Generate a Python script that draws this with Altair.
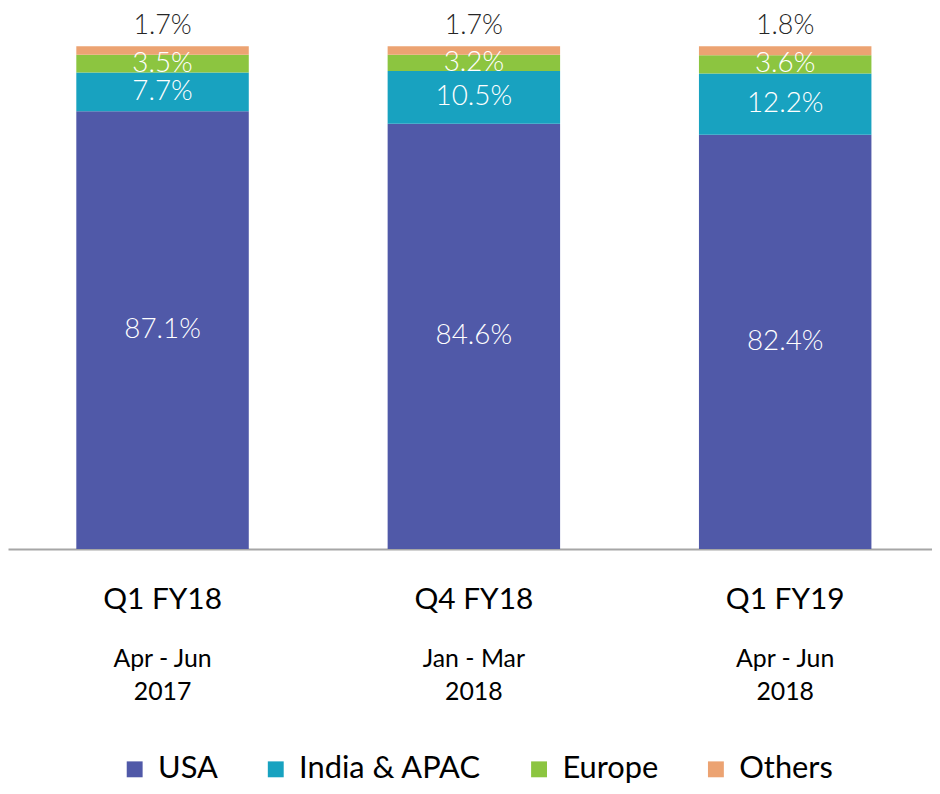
import altair as alt
import pandas as pd

quarters = ["Q1 FY18", "Q4 FY18", "Q1 FY19"]
periods = ["Apr - Jun", "Jan - Mar", "Apr - Jun"]
years = ["2017", "2018", "2018"]
regions = ["USA", "India & APAC", "Europe", "Others"]
usa = [87.1, 84.6, 82.4]
india_apac = [7.7, 10.5, 12.2]
europe = [3.5, 3.2, 3.6]
others = [1.7, 1.7, 1.8]
colors = ["#5059A8", "#18A2C0", "#8CC540", "#ECA372"]

series = [usa, india_apac, europe, others]
rows = []
for qi, q in enumerate(quarters):
    for ri, r in enumerate(regions):
        rows.append({"quarter": q, "region": r, "order": ri, "value": series[ri][qi],
                     "label": f"{series[ri][qi]:.1f}%"})
df = pd.DataFrame(rows)
cat_df = pd.DataFrame({"quarter": quarters, "period": periods, "year": years})

FONT = "Lato"
xscale = alt.Scale(domain=quarters, paddingInner=0.446, paddingOuter=0.207, align=0.53)
x = alt.X("quarter:N", scale=xscale,
          axis=alt.Axis(title=None, labels=False, ticks=False, domain=True, grid=False,
                        domainColor="#A6A6A6", domainWidth=2))

base = alt.Chart(df).transform_stack(
    stack="value", groupby=["quarter"], sort=[alt.SortField("order")], as_=["y0", "y1"]
).transform_calculate(mid="(datum.y0 + datum.y1) / 2")

yscale = alt.Scale(domain=[0, 100], nice=False, zero=True)

bars = base.mark_bar().encode(
    x=x,
    y=alt.Y("y0:Q", scale=yscale, axis=None),
    y2="y1:Q",
    color=alt.Color("region:N", scale=alt.Scale(domain=regions, range=colors),
                    sort=regions,
                    legend=alt.Legend(title=None, orient="none", direction="horizontal",
                                      legendX=112, legendY=712, symbolType="square",
                                      symbolSize=256, symbolStrokeWidth=0,
                                      labelFontSize=31, labelFont=FONT, labelLimit=0,
                                      labelColor="#000000", labelOffset=8,
                                      columnPadding=42)),
    order=alt.Order("order:Q"),
)

inner = base.transform_filter("datum.region != 'Others'").mark_text(
    color="white", fontSize=28, font=FONT, fontWeight=300, baseline="middle"
).encode(x=x, y=alt.Y("mid:Q", scale=yscale), text="label:N")

top = base.transform_filter("datum.region == 'Others'").mark_text(
    color="#262626", fontSize=27, font=FONT, fontWeight=300, baseline="alphabetic", dy=-12
).encode(x=x, y=alt.Y("y1:Q", scale=yscale), text="label:N")

qlab = alt.Chart(cat_df).mark_text(fontSize=30, font=FONT, color="#000000", baseline="middle").encode(
    x=x, y=alt.value(557), text="quarter:N")
plab = alt.Chart(cat_df).mark_text(fontSize=25, font=FONT, color="#000000", baseline="middle").encode(
    x=x, y=alt.value(617), text="period:N")
ylab = alt.Chart(cat_df).mark_text(fontSize=25, font=FONT, color="#000000", baseline="middle").encode(
    x=x, y=alt.value(650), text="year:N")

chart = alt.layer(bars, inner, top, qlab, plab, ylab).properties(
    width=930, height=506,
    padding={"left": 0, "top": 36, "right": 0, "bottom": 236},
    autosize=alt.AutoSizeParams(type="none"),
    background="white",
).configure_view(stroke=None)

chart.save("out.html", embed_options={"renderer": "svg", "actions": False})
